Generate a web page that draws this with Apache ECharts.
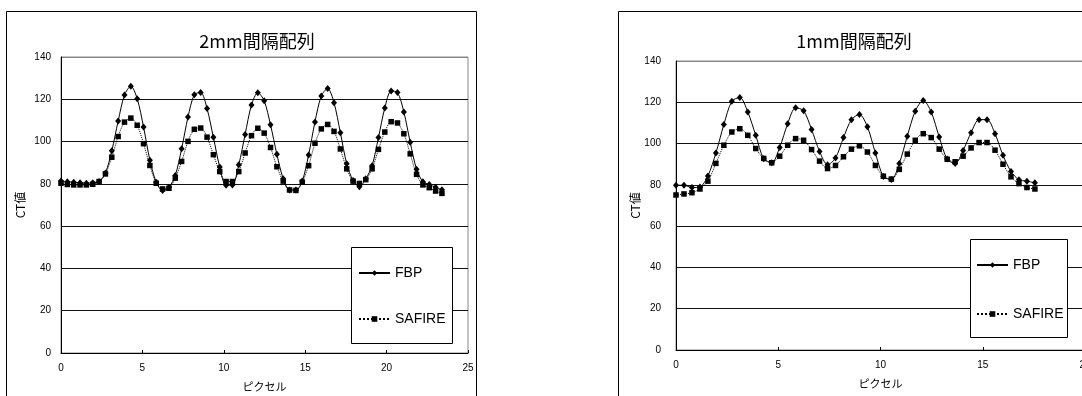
<!DOCTYPE html>
<html>
<head>
<meta charset="utf-8">
<script src="https://cdn.jsdelivr.net/npm/echarts@6/dist/echarts.min.js"></script>
<style>
html,body{margin:0;padding:0;background:#fff;}
#c{width:1082px;height:396px;}
</style>
</head>
<body>
<div id="c"></div>
<script>
// ---- data ----
var pixelPos = [0, 0.39, 0.78, 1.17, 1.56, 1.95, 2.34, 2.73, 3.12, 3.51, 3.9, 4.29, 4.68, 5.07, 5.46, 5.85, 6.24, 6.63, 7.02, 7.41, 7.8, 8.19, 8.58, 8.97, 9.36, 9.75, 10.14, 10.53, 10.92, 11.31, 11.7, 12.09, 12.48, 12.87, 13.26, 13.65, 14.04, 14.43, 14.82, 15.21, 15.6, 15.99, 16.38, 16.77, 17.16, 17.55, 17.94, 18.33, 18.72, 19.11, 19.5, 19.89, 20.28, 20.67, 21.06, 21.45, 21.84, 22.23, 22.62, 23.01, 23.4];

var fbp2mm = [81.3, 81.0, 80.8, 80.5, 80.3, 80.5, 81.1, 85.1, 95.6, 109.7, 122.0, 126.2, 120.3, 106.9, 91.2, 80.8, 76.8, 78.4, 84.0, 96.6, 111.6, 122.2, 123.2, 115.6, 102.0, 88.0, 79.3, 79.5, 89.0, 103.4, 117.3, 123.1, 119.3, 107.9, 94.0, 82.4, 77.1, 77.1, 81.3, 93.7, 109.3, 121.6, 125.1, 118.4, 104.2, 89.5, 81.6, 78.6, 82.4, 88.6, 101.9, 115.9, 123.9, 123.2, 114.0, 99.7, 86.9, 81.0, 79.7, 78.4, 77.2];
var safire2mm = [80.3, 79.7, 79.5, 79.5, 79.5, 79.8, 81.1, 84.7, 92.6, 102.4, 109.2, 111.1, 107.7, 99.0, 88.7, 80.3, 77.6, 77.9, 82.7, 90.6, 100.1, 105.8, 106.4, 102.1, 93.8, 85.8, 81.1, 81.1, 85.8, 94.6, 102.8, 106.3, 104.0, 97.2, 88.1, 81.3, 77.1, 76.9, 80.8, 88.6, 99.2, 106.0, 108.1, 104.8, 96.5, 87.1, 81.3, 80.2, 82.0, 87.1, 96.3, 104.5, 109.4, 108.8, 103.7, 94.2, 84.5, 79.5, 78.2, 76.6, 75.5];

var fbp1mm = [79.8, 79.8, 78.7, 79.0, 84.3, 95.4, 109.2, 120.5, 122.3, 115.3, 104.0, 92.6, 90.7, 98.1, 109.6, 117.3, 115.9, 106.8, 96.2, 89.8, 93.0, 102.9, 111.6, 114.1, 108.1, 95.4, 84.1, 82.6, 90.4, 103.6, 115.7, 120.9, 115.3, 103.2, 92.5, 90.4, 96.7, 105.3, 111.6, 111.6, 104.8, 94.3, 86.5, 82.5, 81.8, 81.0];
var safire1mm = [75.1, 75.6, 76.2, 78.0, 81.8, 90.4, 99.2, 105.6, 107.2, 104.0, 97.6, 92.8, 90.7, 93.9, 99.2, 102.4, 101.6, 97.1, 91.5, 87.9, 89.4, 93.6, 97.3, 98.9, 95.9, 89.4, 84.2, 82.8, 87.5, 94.9, 101.6, 104.8, 102.9, 97.3, 92.4, 91.2, 93.9, 97.9, 100.5, 100.5, 96.8, 90.0, 83.9, 80.6, 78.7, 78.0];

var titles = ['2mm間隔配列', '1mm間隔配列'];
var seriesNames = ['FBP', 'SAFIRE'];
var xName = 'ピクセル';
var yName = 'CT値';
var xMax = [25, 20];

// ---- build ----
function pairs(xs, ys) {
  var out = [];
  for (var i = 0; i < ys.length; i++) out.push([xs[i], ys[i]]);
  return out;
}

var numFont = 'Liberation Sans';
var jpFont = 'Noto Sans CJK JP';

function makeX(idx) {
  return {
    gridIndex: idx, type: 'value', min: 0, max: xMax[idx], interval: 5,
    name: xName, nameLocation: 'middle', nameGap: 28, nameMoveOverlap: false,
    nameTextStyle: {fontFamily: jpFont, fontSize: 11, color: '#000'},
    axisLine: {show: true, lineStyle: {color: '#000', width: 1}},
    axisTick: {show: true, inside: true, length: 3, lineStyle: {color: '#000'}},
    axisLabel: {fontFamily: numFont, fontSize: 10, color: '#000', margin: 10, hideOverlap: false},
    splitLine: {show: false}
  };
}
function makeY(idx) {
  return {
    gridIndex: idx, type: 'value', min: 0, max: 140, interval: 20,
    name: yName, nameLocation: 'middle', nameRotate: 90, nameGap: 35, nameMoveOverlap: false,
    nameTextStyle: {fontFamily: jpFont, fontSize: 12, color: '#000'},
    axisLine: {show: true, lineStyle: {color: '#000', width: 1}},
    axisTick: {show: false},
    axisLabel: {fontFamily: numFont, fontSize: 10, color: '#000', margin: idx === 0 ? 10 : 15},
    splitLine: {show: true, lineStyle: {color: ['#000', '#111', '#111', '#111', '#111', '#111', '#111', '#888'], width: 1}}
  };
}
function fbpSeries(idx, data) {
  return {
    name: seriesNames[0], type: 'line', xAxisIndex: idx, yAxisIndex: idx,
    data: data, smooth: 0.3, symbol: 'diamond', symbolSize: [6, 7],
    lineStyle: {color: '#000', width: 1, type: 'solid'},
    itemStyle: {color: '#000'}, z: 3
  };
}
function safSeries(idx, data) {
  return {
    name: seriesNames[1], type: 'line', xAxisIndex: idx, yAxisIndex: idx,
    data: data, smooth: 0.3, symbol: 'rect', symbolSize: 5.5,
    lineStyle: {color: '#000', width: 1, type: 'dotted'},
    itemStyle: {color: '#000'}, z: 2
  };
}
function makeLegend(left, top, gap) {
  return {
    orient: 'vertical', left: left, top: top, itemWidth: 31, itemHeight: 7, itemGap: gap,
    padding: 0, selectedMode: false, data: seriesNames, z: 6,
    textStyle: {fontFamily: numFont, fontSize: 14, lineHeight: 14, color: '#000'}
  };
}

var chart = echarts.init(document.getElementById('c'), null, {renderer: 'canvas'});
chart.setOption({
  backgroundColor: '#fff',
  animation: false,
  grid: [
    {left: 61, top: 57, width: 407, height: 296, show: true, borderColor: '#888', borderWidth: 1, backgroundColor: 'transparent', containLabel: false, outerBoundsMode: 'none'},
    {left: 676, top: 61, width: 409, height: 289, show: true, borderColor: '#888', borderWidth: 1, backgroundColor: 'transparent', containLabel: false, outerBoundsMode: 'none'}
  ],
  xAxis: [makeX(0), makeX(1)],
  yAxis: [makeY(0), makeY(1)],
  legend: [makeLegend(358, 266, 32), makeLegend(976, 258, 35)],
  graphic: [
    {type: 'rect', shape: {x: 6.5, y: 11.5, width: 470, height: 420}, style: {fill: 'none', stroke: '#000', lineWidth: 1}, z: 1, silent: true},
    {type: 'rect', shape: {x: 618.5, y: 11.5, width: 500, height: 420}, style: {fill: 'none', stroke: '#000', lineWidth: 1}, z: 1, silent: true},
    {type: 'rect', shape: {x: 351.5, y: 247.5, width: 101, height: 96}, style: {fill: '#fff', stroke: '#000', lineWidth: 1}, z: 5, silent: true},
    {type: 'rect', shape: {x: 970.5, y: 239.5, width: 97, height: 98}, style: {fill: '#fff', stroke: '#000', lineWidth: 1}, z: 5, silent: true},
    {type: 'text', x: 257, y: 41, style: {text: titles[0], fontFamily: jpFont, fontSize: 18, fill: '#000', textAlign: 'center', textVerticalAlign: 'middle'}, z: 5},
    {type: 'text', x: 854, y: 41, style: {text: titles[1], fontFamily: jpFont, fontSize: 18, fill: '#000', textAlign: 'center', textVerticalAlign: 'middle'}, z: 5}
  ],
  series: [
    safSeries(0, pairs(pixelPos, safire2mm)),
    fbpSeries(0, pairs(pixelPos, fbp2mm)),
    safSeries(1, pairs(pixelPos, safire1mm)),
    fbpSeries(1, pairs(pixelPos, fbp1mm))
  ]
});
</script>
</body>
</html>
